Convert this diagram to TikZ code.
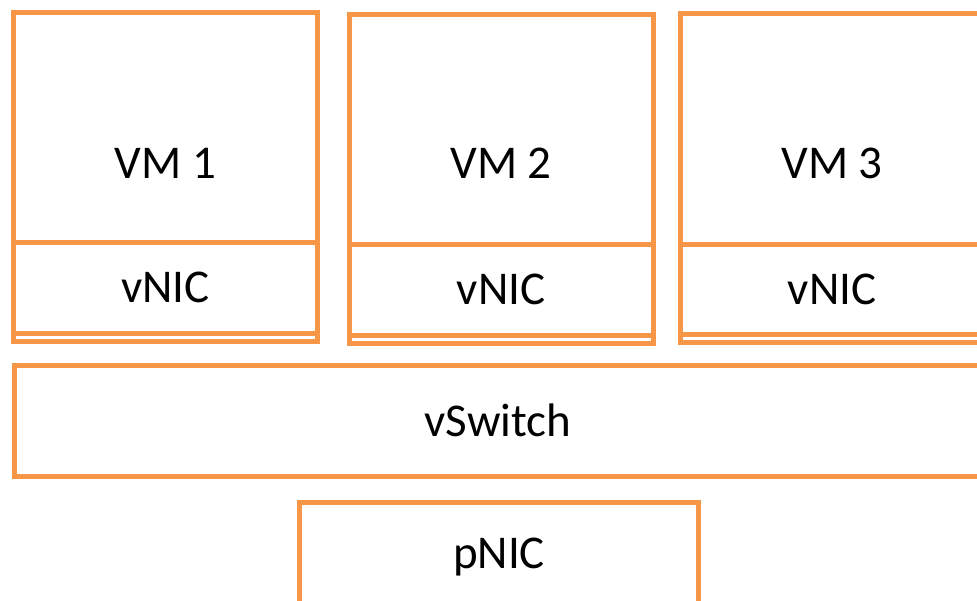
\documentclass[tikz,border=0pt]{standalone}
\usepackage{fontspec}
\setmainfont{Carlito}
\usetikzlibrary{fit}
\definecolor{boxorange}{RGB}{247,150,70}
\tikzset{
  box/.style={draw=boxorange, line width=2.5pt, inner sep=0pt},
  lbl/.style={font=\fontsize{23.5}{28}\selectfont, text height=15pt, text depth=0pt, inner sep=0pt}
}
\begin{document}
\begin{tikzpicture}[x=0.5pt,y=-0.5pt]
\useasboundingbox (0,0) rectangle (977,600);
\clip (0,0) rectangle (977,600);
% virtual machines with their vNICs
\foreach \i/\l/\r/\t/\m/\b in {1/13.5/317.5/12.5/242/341, 2/349/653/14/244/343, 3/680/984/13.5/244/342.5} {
  \node[box, fit={(\l,\t) (\r,\b)}] (vm\i) {};
  \node[box, fit={(\l,\m) (\r,\b-8)}] (nic\i) {};
  \node[lbl] (vm\i l) at ({(\l+\r)/2},163) {VM \i};
  \node[lbl] (nic\i l) at (nic\i) {vNIC};
}
% switch and physical NIC
\node[box, fit={(14,365.5) (982,476.5)}] (vswitch) {};
\node[lbl] (vswitchl) at (vswitch) {vSwitch};
\node[box, fit={(299.5,502.5) (698.5,603.5)}] (pnic) {};
\node[lbl] (pnicl) at (pnic) {pNIC};
\end{tikzpicture}
\end{document}
